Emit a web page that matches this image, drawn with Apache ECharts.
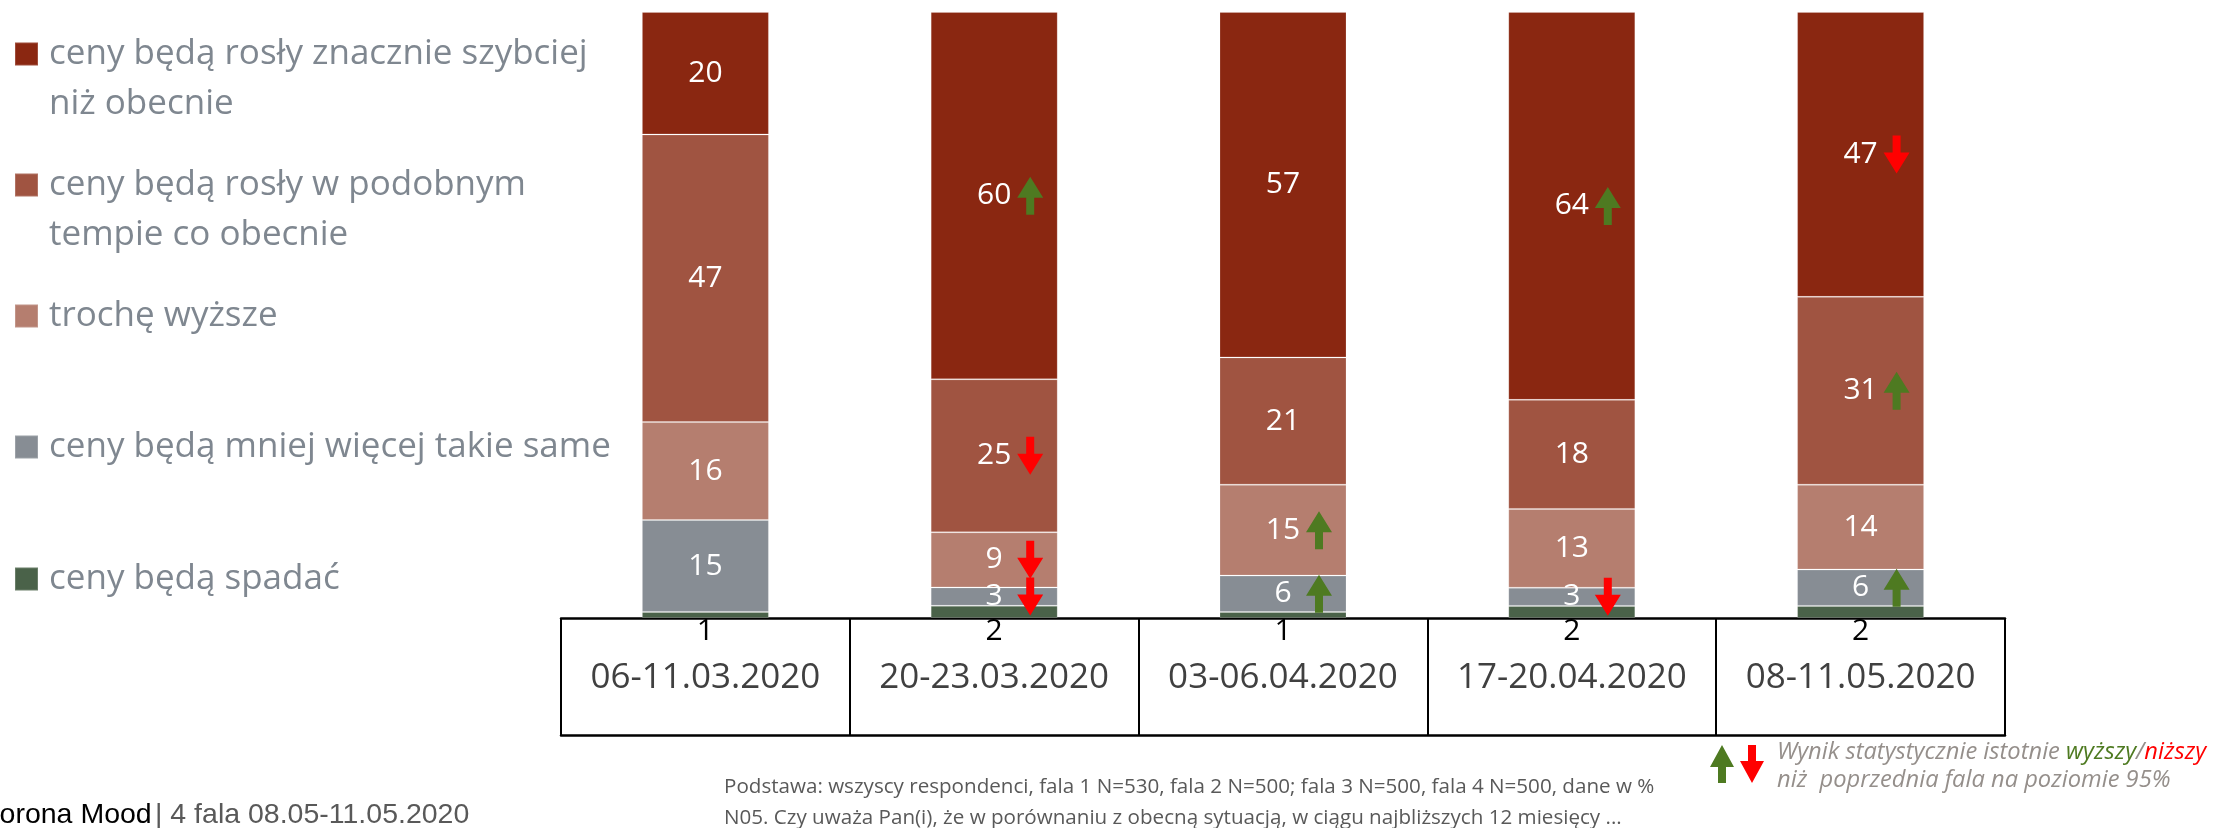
<!DOCTYPE html>
<html>
<head>
<meta charset="utf-8">
<script src="https://cdn.jsdelivr.net/npm/echarts@6/dist/echarts.min.js"></script>
<style>
  html, body { margin: 0; padding: 0; background: #fff; }
  #chart { width: 2217px; height: 828px; }
</style>
</head>
<body>
<div id="chart"></div>
<script>
// survey waves (x categories)
const waves = ['06-11.03.2020', '20-23.03.2020', '03-06.04.2020', '17-20.04.2020', '08-11.05.2020'];

// answers, top of the stack first
const muchFaster = [20, 60, 57, 64, 47];
const similarPace = [47, 25, 21, 18, 31];
const slightlyHigher = [16, 9, 15, 13, 14];
const aboutSame = [15, 3, 6, 3, 6];
const falling = [1, 2, 1, 2, 2];

const answerNames = [
  'ceny będą rosły znacznie szybciej\nniż obecnie',
  'ceny będą rosły w podobnym\ntempie co obecnie',
  'trochę wyższe',
  'ceny będą mniej więcej takie same',
  'ceny będą spadać'
];

// significant change vs previous wave: [wave index, answer index]
const higherMarks = [[1, 0], [2, 2], [2, 3], [3, 0], [4, 1], [4, 3]];
const lowerMarks = [[1, 1], [1, 2], [1, 3], [3, 3], [4, 0]];

const answers = [muchFaster, similarPace, slightlyHigher, aboutSame, falling];
const colors = ['#8A2711', '#A05441', '#B57E6F', '#878D94', '#4A6249'];
const legendCenters = [54, 185, 316, 447, 579];

const FONT = '"Segoe UI", "Open Sans", sans-serif';
const UP_ARROW = 'path://M13,0 L26,21 L17,21 L17,38 L9,38 L9,21 L0,21 Z';
const DOWN_ARROW = 'path://M9,0 L17,0 L17,17 L26,17 L13,38 L0,17 L9,17 Z';

// bars are drawn as 100% stacks, labels keep the raw values
const totals = waves.map((_, i) => answers.reduce((s, a) => s + a[i], 0));
const share = (a, i) => answers[a][i] / totals[i] * 100;

function segmentMid(a, i) {
  let below = 0;
  for (let k = answers.length - 1; k > a; k--) below += share(k, i);
  return below + share(a, i) / 2;
}

const barSeries = [];
for (let a = answers.length - 1; a >= 0; a--) {
  const isBottom = a === answers.length - 1;
  barSeries.push({
    name: answerNames[a],
    type: 'bar',
    stack: 'all',
    barWidth: 127,
    data: waves.map((_, i) => share(a, i)),
    itemStyle: { color: colors[a], borderColor: 'rgba(255,255,255,0.18)', borderWidth: 1 },
    label: {
      show: true,
      position: isBottom ? 'bottom' : 'inside',
      distance: isBottom ? -2 : 5,
      color: isBottom ? '#000' : '#fff',
      fontSize: 30,
      fontFamily: FONT,
      formatter: p => answers[a][p.dataIndex]
    }
  });
}

function markSeries(marks, symbol, color) {
  return {
    type: 'scatter',
    silent: true,
    data: marks.map(([w, a]) => [w, segmentMid(a, w)]),
    symbol: symbol,
    symbolSize: [26, 38],
    symbolOffset: [36, 0],
    itemStyle: { color: color, opacity: 1 },
    z: 5
  };
}

// one legend per answer so the square lines up with the first text line
const legends = answerNames.map((name, a) => {
  const twoLines = name.indexOf('\n') >= 0;
  return {
    data: [name],
    left: 14,
    top: legendCenters[a] - (twoLines ? 75 : 25),
    padding: 0,
    itemWidth: 23,
    itemHeight: 23,
    icon: 'rect',
    selectedMode: false,
    formatter: n => (twoLines ? '\n' + n : n),
    textStyle: {
      fontSize: 35,
      fontFamily: FONT,
      color: '#7F8790',
      lineHeight: 50,
      padding: [0, 0, 0, 6]
    }
  };
});

const chart = echarts.init(document.getElementById('chart'));
chart.setOption({
  animation: false,
  grid: { left: 561, right: 212, top: 12, bottom: 210, outerBoundsMode: 'none' },
  legend: legends,
  xAxis: [
    {
      type: 'category',
      data: waves,
      axisLine: { lineStyle: { color: '#000', width: 2.5 } },
      axisTick: { show: true, interval: 0, length: 117, lineStyle: { color: '#000', width: 2 } },
      axisLabel: { interval: 0, fontSize: 35, fontFamily: FONT, color: '#404040', margin: 43 }
    },
    {
      type: 'category',
      data: waves,
      position: 'bottom',
      offset: 117,
      axisLine: { lineStyle: { color: '#000', width: 2.5 } },
      axisTick: { show: false },
      axisLabel: { show: false }
    }
  ],
  yAxis: { type: 'value', min: 0, max: 100, show: false },
  series: barSeries.concat([
    markSeries(higherMarks, UP_ARROW, '#4E7A21'),
    markSeries(lowerMarks, DOWN_ARROW, '#FF0000')
  ]),
  graphic: [
    {
      type: 'text', x: -21, y: 815,
      style: {
        text: '{a|Corona Mood} {b|| 4 fala 08.05-11.05.2020}',
        verticalAlign: 'middle',
        rich: {
          a: { fontSize: 28.5, fontFamily: '"Liberation Sans", Arial', fill: '#000' },
          b: { fontSize: 28.5, fontFamily: '"Liberation Sans", Arial', fill: '#595959' }
        }
      }
    },
    {
      type: 'text', x: 724, y: 787,
      style: {
        text: 'Podstawa: wszyscy respondenci, fala 1 N=530, fala 2 N=500; fala 3 N=500, fala 4 N=500, dane w %',
        fontSize: 20.6, fontFamily: FONT, fill: '#595959', verticalAlign: 'middle'
      }
    },
    {
      type: 'text', x: 724, y: 818,
      style: {
        text: 'N05. Czy uważa Pan(i), że w porównaniu z obecną sytuacją, w ciągu najbliższych 12 miesięcy ...',
        fontSize: 20.6, fontFamily: FONT, fill: '#595959', verticalAlign: 'middle'
      }
    },
    {
      type: 'polygon',
      shape: { points: [[1722, 745], [1734, 767], [1726, 767], [1726, 783], [1718, 783], [1718, 767], [1710, 767]] },
      style: { fill: '#4E7A21' }
    },
    {
      type: 'polygon',
      shape: { points: [[1748, 745], [1756, 745], [1756, 761], [1764, 761], [1752, 783], [1740, 761], [1748, 761]] },
      style: { fill: '#FF0000' }
    },
    {
      type: 'text', x: 1777, y: 766,
      style: {
        text: '{g|Wynik statystycznie istotnie }{up|wyższy}{g|/}{down|niższy}\n{g|niż  poprzednia fala na poziomie 95%}',
        verticalAlign: 'middle',
        rich: {
          g: { fontSize: 23.7, fontStyle: 'italic', fontFamily: FONT, fill: '#958F8B', lineHeight: 28 },
          up: { fontSize: 23.7, fontStyle: 'italic', fontFamily: FONT, fill: '#4E7A21', lineHeight: 28 },
          down: { fontSize: 23.7, fontStyle: 'italic', fontFamily: FONT, fill: '#FF0000', lineHeight: 28 }
        }
      }
    }
  ]
});
</script>
</body>
</html>
